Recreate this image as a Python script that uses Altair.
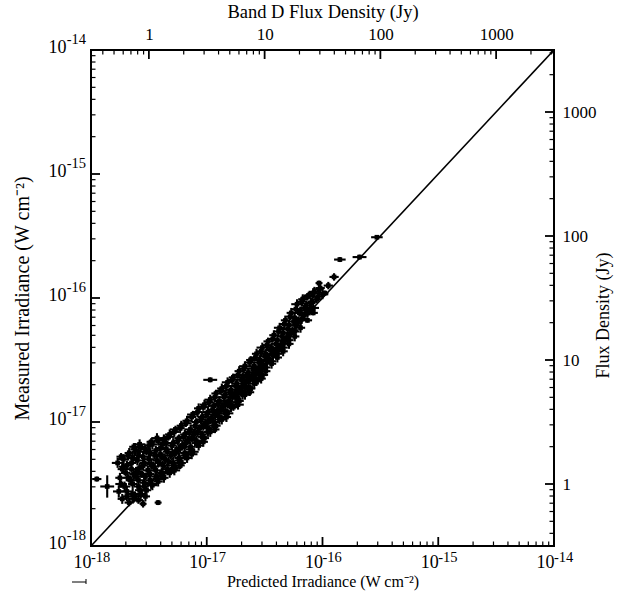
import altair as alt
import pandas as pd

# ---- data (log10 of irradiance, W cm^-2) ----
LOG_PRED = [
    -17.77, -17.75, -17.76, -17.74,
    -17.72, -17.70, -17.71, -17.69, -17.72,
    -17.67, -17.65, -17.66, -17.64, -17.67, -17.65,
    -17.62, -17.60, -17.61, -17.59, -17.62, -17.60,
    -17.57, -17.55, -17.56, -17.54, -17.57, -17.55,
    -17.52, -17.50, -17.51, -17.49, -17.52, -17.50,
    -17.47, -17.45, -17.46, -17.44, -17.47,
    -17.42, -17.40, -17.41, -17.39, -17.42, -17.40,
    -17.37, -17.35, -17.36, -17.34, -17.37,
    -17.32, -17.30, -17.31, -17.29, -17.32,
    -17.27, -17.25, -17.26, -17.24, -17.27,
    -17.22, -17.20, -17.21, -17.19, -17.22,
    -17.17, -17.15, -17.16, -17.14, -17.17,
    -17.12, -17.10, -17.11, -17.09, -17.12,
    -17.07, -17.05, -17.06, -17.04, -17.07,
    -17.02, -17.00, -17.01, -16.99, -17.02,
    -16.97, -16.95, -16.96, -16.94, -16.97,
    -16.92, -16.90, -16.91, -16.89, -16.92,
    -16.87, -16.85, -16.86, -16.84, -16.87,
    -16.82, -16.80, -16.81, -16.79, -16.82,
    -16.77, -16.75, -16.76, -16.74, -16.77,
    -16.72, -16.70, -16.71, -16.69, -16.72,
    -16.67, -16.65, -16.66, -16.64, -16.67,
    -16.62, -16.60, -16.61, -16.59, -16.62,
    -16.57, -16.55, -16.56, -16.54, -16.57,
    -16.52, -16.50, -16.51, -16.49, -16.52,
    -16.47, -16.45, -16.46, -16.44,
    -16.42, -16.40, -16.41, -16.39,
    -16.37, -16.35, -16.36, -16.34,
    -16.32, -16.30, -16.31, -16.29,
    -16.27, -16.25, -16.26, -16.24,
    -16.22, -16.20, -16.21, -16.19,
    -16.17, -16.15, -16.16,
    -16.12, -16.10, -16.11,
    -16.07, -16.05,
    -16.02, -16.00,
    # in-between columns
    -17.73, -17.74, -17.73,
    -17.68, -17.69, -17.68, -17.69,
    -17.63, -17.64, -17.63, -17.64, -17.63,
    -17.58, -17.59, -17.58, -17.59, -17.58, -17.59,
    -17.53, -17.54, -17.53, -17.54, -17.53,
    -17.48, -17.49, -17.48, -17.49, -17.48,
    -17.43, -17.44, -17.43, -17.44, -17.43,
    -17.38, -17.39, -17.38, -17.39,
    -17.33, -17.34, -17.33, -17.34,
    -17.28, -17.29, -17.28, -17.29, -17.28,
    -17.23, -17.24, -17.23, -17.24, -17.23,
    -17.18, -17.19, -17.18, -17.19,
    -17.13, -17.14, -17.13, -17.14, -17.13,
    -17.08, -17.09, -17.08, -17.09,
    -17.03, -17.04, -17.03, -17.04, -17.03,
    -16.98, -16.99, -16.98, -16.99,
    -16.93, -16.94, -16.93, -16.94, -16.93,
    -16.88, -16.89, -16.88, -16.89,
    -16.83, -16.84, -16.83, -16.84, -16.83,
    -16.78, -16.79, -16.78, -16.79,
    -16.73, -16.74, -16.73, -16.74, -16.73,
    -16.68, -16.69, -16.68, -16.69,
    -16.63, -16.64, -16.63, -16.64, -16.63,
    -16.58, -16.59, -16.58, -16.59,
    -16.53, -16.54, -16.53, -16.54, -16.53,
    -16.48, -16.49, -16.48, -16.49,
    -16.43, -16.44, -16.43, -16.44,
    -16.38, -16.39, -16.38, -16.39,
    -16.33, -16.34, -16.33, -16.34,
    -16.28, -16.29, -16.28, -16.29,
    -16.23, -16.24, -16.23, -16.24,
    -16.18, -16.19, -16.18,
    -16.13, -16.14, -16.13,
    -16.08, -16.09, -16.08,
    -16.03, -16.04,
    # isolated points
    -15.95, -15.90, -15.85, -15.68, -15.53, -16.97, -17.35, -17.59,
    -17.86, -17.95, -17.55, -17.42, -16.08, -15.98, -16.03, -16.13,
]
LOG_MEAS = [
    -17.33, -17.45, -17.56, -17.28,
    -17.30, -17.41, -17.52, -17.60, -17.36,
    -17.25, -17.38, -17.47, -17.58, -17.65, -17.33,
    -17.22, -17.31, -17.44, -17.52, -17.60, -17.40,
    -17.20, -17.35, -17.42, -17.49, -17.58, -17.28,
    -17.24, -17.30, -17.39, -17.47, -17.55, -17.19,
    -17.18, -17.27, -17.36, -17.44, -17.51,
    -17.15, -17.26, -17.33, -17.41, -17.48, -17.21,
    -17.14, -17.22, -17.30, -17.38, -17.45,
    -17.10, -17.19, -17.27, -17.35, -17.41,
    -17.06, -17.15, -17.23, -17.31, -17.37,
    -17.03, -17.12, -17.19, -17.27, -17.33,
    -16.99, -17.08, -17.15, -17.22, -17.29,
    -16.94, -17.03, -17.10, -17.17, -17.24,
    -16.89, -16.98, -17.05, -17.12, -17.19,
    -16.86, -16.94, -17.01, -17.08, -17.13,
    -16.82, -16.90, -16.97, -17.03, -17.08,
    -16.77, -16.85, -16.92, -16.98, -17.03,
    -16.73, -16.80, -16.87, -16.93, -16.98,
    -16.68, -16.76, -16.83, -16.88, -16.93,
    -16.64, -16.71, -16.78, -16.84, -16.88,
    -16.59, -16.66, -16.73, -16.78, -16.83,
    -16.55, -16.62, -16.68, -16.74, -16.78,
    -16.50, -16.57, -16.63, -16.69, -16.73,
    -16.45, -16.52, -16.58, -16.64, -16.67,
    -16.40, -16.47, -16.54, -16.59, -16.62,
    -16.35, -16.42, -16.49, -16.53,
    -16.30, -16.37, -16.43, -16.48,
    -16.24, -16.31, -16.38, -16.43,
    -16.18, -16.25, -16.32, -16.37,
    -16.12, -16.19, -16.26, -16.31,
    -16.05, -16.12, -16.19, -16.24,
    -16.01, -16.08, -16.14,
    -15.98, -16.04, -16.10,
    -15.95, -16.01,
    -15.92, -15.97,
    # in-between columns
    -17.38, -17.50, -17.62,
    -17.27, -17.35, -17.45, -17.56,
    -17.20, -17.29, -17.42, -17.50, -17.62,
    -17.18, -17.27, -17.37, -17.47, -17.55, -17.63,
    -17.22, -17.33, -17.44, -17.52, -17.60,
    -17.16, -17.25, -17.34, -17.42, -17.50,
    -17.13, -17.23, -17.31, -17.39, -17.46,
    -17.18, -17.28, -17.35, -17.43,
    -17.12, -17.24, -17.32, -17.40,
    -17.08, -17.17, -17.25, -17.33, -17.39,
    -17.05, -17.13, -17.21, -17.29, -17.35,
    -17.01, -17.10, -17.17, -17.25,
    -16.96, -17.06, -17.13, -17.20, -17.26,
    -16.92, -17.00, -17.08, -17.15,
    -16.88, -16.96, -17.03, -17.10, -17.16,
    -16.84, -16.92, -16.99, -17.05,
    -16.80, -16.87, -16.94, -17.00, -17.06,
    -16.75, -16.83, -16.90, -16.96,
    -16.71, -16.78, -16.85, -16.91, -16.96,
    -16.66, -16.74, -16.80, -16.86,
    -16.62, -16.69, -16.76, -16.81, -16.86,
    -16.57, -16.64, -16.71, -16.76,
    -16.52, -16.60, -16.66, -16.72, -16.76,
    -16.48, -16.55, -16.61, -16.66,
    -16.43, -16.50, -16.56, -16.61, -16.65,
    -16.38, -16.45, -16.51, -16.56,
    -16.33, -16.40, -16.46, -16.51,
    -16.27, -16.34, -16.41, -16.45,
    -16.21, -16.28, -16.35, -16.40,
    -16.15, -16.22, -16.29, -16.34,
    -16.09, -16.16, -16.22, -16.27,
    -16.03, -16.10, -16.17,
    -15.99, -16.06, -16.12,
    -15.96, -16.03, -16.08,
    -15.93, -15.99,
    # isolated points
    -15.90, -15.83, -15.69, -15.67, -15.51, -16.66, -17.17, -17.24,
    -17.52, -17.46, -17.66, -17.65, -16.12, -15.96, -15.88, -16.18,
]
# half-lengths of the error bars, in dex
ERR_PRED = [
    .05, .04, .05, .04,
    .05, .04, .05, .04, .04,
    .04, .05, .04, .05, .04, .04,
    .04, .05, .04, .04, .05, .04,
    .04, .04, .05, .04, .04, .05,
    .04, .05, .04, .04, .04, .04,
    .04, .04, .05, .04, .04,
    .04, .04, .04, .05, .04, .04,
    .04, .05, .04, .04, .04,
    .04, .04, .05, .04, .04,
    .05, .04, .04, .04, .05,
    .04, .05, .04, .04, .04,
    .04, .04, .05, .04, .04,
    .05, .04, .04, .04, .05,
    .04, .05, .04, .04, .04,
    .04, .04, .05, .04, .04,
    .05, .04, .04, .04, .05,
    .04, .05, .04, .04, .04,
    .04, .04, .05, .04, .04,
    .05, .04, .04, .04, .05,
    .04, .05, .04, .04, .04,
    .04, .04, .05, .04, .04,
    .05, .04, .04, .04, .05,
    .04, .05, .04, .04, .04,
    .04, .04, .05, .04, .04,
    .05, .04, .04, .04, .05,
    .04, .05, .04, .04,
    .04, .04, .05, .04,
    .05, .04, .04, .04,
    .04, .05, .04, .04,
    .04, .04, .05, .04,
    .05, .04, .04, .04,
    .04, .05, .04,
    .04, .04, .05,
    .05, .04,
    .04, .05,
    # in-between columns
    .04, .05, .04,
    .05, .04, .04, .05,
    .04, .05, .04, .04, .05,
    .05, .04, .04, .05, .04, .04,
    .04, .04, .05, .04, .04,
    .04, .05, .04, .04, .05,
    .05, .04, .04, .05, .04,
    .04, .04, .05, .04,
    .05, .04, .04, .04,
    .04, .05, .04, .04, .05,
    .04, .04, .05, .04, .04,
    .05, .04, .04, .04,
    .04, .05, .04, .04, .05,
    .04, .04, .05, .04,
    .05, .04, .04, .04, .04,
    .04, .05, .04, .04,
    .04, .04, .04, .05, .04,
    .05, .04, .04, .04,
    .04, .04, .05, .04, .04,
    .04, .05, .04, .04,
    .05, .04, .04, .04, .05,
    .04, .04, .05, .04,
    .04, .05, .04, .04, .04,
    .05, .04, .04, .04,
    .04, .04, .05, .04, .04,
    .04, .05, .04, .04,
    .05, .04, .04, .04,
    .04, .04, .05, .04,
    .04, .05, .04, .04,
    .05, .04, .04, .04,
    .04, .04, .05, .04,
    .04, .05, .04,
    .05, .04, .04,
    .04, .04, .05,
    .04, .05,
    # isolated points
    .04, .04, .05, .06, .05, .06, .06, .06,
    .06, .04, .03, .03, .04, .03, .03, .04,
]
ERR_MEAS = [
    .04, .04, .05, .03,
    .04, .03, .04, .04, .05,
    .04, .03, .04, .04, .03, .04,
    .05, .04, .03, .04, .04, .04,
    .04, .04, .03, .04, .04, .04,
    .03, .04, .04, .04, .03, .04,
    .04, .03, .04, .04, .04,
    .04, .04, .03, .04, .04, .03,
    .04, .03, .04, .04, .04,
    .04, .04, .03, .04, .04,
    .03, .04, .04, .04, .03,
    .04, .03, .04, .04, .04,
    .04, .04, .03, .04, .04,
    .03, .04, .04, .04, .03,
    .04, .04, .03, .04, .04,
    .04, .03, .04, .04, .03,
    .04, .04, .03, .04, .04,
    .03, .04, .04, .04, .03,
    .04, .04, .03, .04, .04,
    .04, .03, .04, .04, .04,
    .03, .04, .04, .04, .03,
    .04, .04, .03, .04, .04,
    .04, .03, .04, .04, .04,
    .03, .04, .04, .04, .03,
    .04, .04, .03, .04, .04,
    .04, .03, .04, .04, .04,
    .03, .04, .04, .04,
    .04, .04, .03, .04,
    .04, .03, .04, .04,
    .03, .04, .04, .04,
    .04, .04, .03, .04,
    .04, .03, .04, .04,
    .04, .04, .03,
    .03, .04, .04,
    .04, .03,
    .04, .04,
    # in-between columns
    .04, .03, .04,
    .04, .04, .03, .04,
    .03, .04, .04, .04, .03,
    .04, .03, .04, .04, .04, .03,
    .04, .04, .03, .04, .04,
    .03, .04, .04, .03, .04,
    .04, .04, .03, .04, .04,
    .04, .03, .04, .04,
    .03, .04, .04, .03,
    .04, .04, .03, .04, .04,
    .04, .03, .04, .04, .03,
    .03, .04, .04, .04,
    .04, .04, .03, .04, .04,
    .04, .03, .04, .04,
    .03, .04, .04, .03, .04,
    .04, .04, .03, .04,
    .04, .03, .04, .04, .03,
    .03, .04, .04, .04,
    .04, .04, .03, .04, .04,
    .04, .03, .04, .04,
    .03, .04, .04, .03, .04,
    .04, .04, .03, .04,
    .04, .03, .04, .04, .03,
    .03, .04, .04, .04,
    .04, .04, .03, .04, .04,
    .04, .03, .04, .04,
    .03, .04, .04, .03,
    .04, .04, .03, .04,
    .04, .03, .04, .04,
    .03, .04, .04, .04,
    .04, .04, .03, .04,
    .04, .03, .04,
    .03, .04, .04,
    .04, .03, .04,
    .04, .03,
    # isolated points
    .03, .03, .02, .02, .01, .02, .06, .07,
    .09, .02, .03, .02, .02, .02, .02, .02,
]

IRR_MAJOR = [1e-18, 1e-17, 1e-16, 1e-15, 1e-14]
IRR_EXPONENTS = ["-18", "-17", "-16", "-15", "-14"]
JY_MAJOR = [1, 10, 100, 1000]
JY_DOMAIN = [10 ** -0.5, 10 ** 3.5]   # 1 Jy = 10^-17.5 W cm^-2 on these axes
IRR_DOMAIN = [1e-18, 1e-14]

# ---- derived tables ----
pts = pd.DataFrame({"lp": LOG_PRED, "lm": LOG_MEAS, "ex": ERR_PRED, "ey": ERR_MEAS})
pts["pred"] = 10 ** pts["lp"]
pts["meas"] = 10 ** pts["lm"]
pts["xlo"] = 10 ** (pts["lp"] - pts["ex"])
pts["xhi"] = 10 ** (pts["lp"] + pts["ex"])
pts["ylo"] = 10 ** (pts["lm"] - pts["ey"])
pts["yhi"] = 10 ** (pts["lm"] + pts["ey"])

diag = pd.DataFrame({"v": IRR_DOMAIN})
irr_major = pd.DataFrame({"v": IRR_MAJOR, "e": IRR_EXPONENTS})
irr_minor = pd.DataFrame({"v": [k * m for m in IRR_MAJOR[:-1] for k in range(2, 10)]})
jy_major = pd.DataFrame({"v": JY_MAJOR})
jy_minor = pd.DataFrame({"v": [k * m for m in [0.1, 1, 10, 100, 1000] for k in range(2, 10)
                               if JY_DOMAIN[0] <= k * m <= JY_DOMAIN[1]]})

W, H = 463, 496
FONT = "Liberation Serif"
MAJ, MIN = 9, 4.5
BASE, SUP = 18, 14.5

common = dict(ticks=False, domain=False, grid=False, labelFlush=False, labelOverlap=False,
              labelFont=FONT, labelColor="black", titleFont=FONT, titleColor="black",
              titleFontWeight="normal")

X_AXIS = alt.Axis(title="Predicted Irradiance (W cm⁻²)", values=IRR_MAJOR, labelExpr="'10'",
                  labelFontSize=BASE, labelPadding=7, labelOffset=-9,
                  titleFontSize=16, titlePadding=2, **common)
Y_AXIS = alt.Axis(title="Measured Irradiance (W cm⁻²)", values=IRR_MAJOR, labelExpr="'10'",
                  labelFontSize=BASE, labelPadding=25, labelOffset=-3,
                  titleFontSize=20, titlePadding=16, **common)
TOP_AXIS = alt.Axis(orient="top", title="Band D Flux Density (Jy)", values=JY_MAJOR, format="d",
                    labelFontSize=17, labelPadding=7, titleFontSize=18.5, titlePadding=4, **common)
RIGHT_AXIS = alt.Axis(orient="right", title="Flux Density (Jy)", values=JY_MAJOR, format="d",
                      labelFontSize=17, labelPadding=8, titleFontSize=18, titlePadding=16,
                      titleAngle=270, titleY=H / 2 + 17, **common)

XS = alt.Scale(type="log", domain=IRR_DOMAIN, nice=False)
YS = alt.Scale(type="log", domain=IRR_DOMAIN, nice=False)
JXS = alt.Scale(type="log", domain=JY_DOMAIN, nice=False)
JYS = alt.Scale(type="log", domain=JY_DOMAIN, nice=False)


def X(f):
    return alt.X(f, type="quantitative", scale=XS, axis=X_AXIS)


def Y(f):
    return alt.Y(f, type="quantitative", scale=YS, axis=Y_AXIS)


SW = 2.1
errx = alt.Chart(pts).mark_rule(color="black", strokeWidth=SW).encode(
    x=X("xlo"), x2="xhi:Q", y=Y("meas"))
erry = alt.Chart(pts).mark_rule(color="black", strokeWidth=SW).encode(
    x=X("pred"), y=Y("ylo"), y2="yhi:Q")
dots = alt.Chart(pts).mark_square(color="black", size=22, opacity=1).encode(x=X("pred"), y=Y("meas"))
line = alt.Chart(diag).mark_line(color="black", strokeWidth=1.6).encode(x=X("v"), y=Y("v"))

b_maj = alt.Chart(irr_major).mark_rule(color="black", strokeWidth=1.8).encode(
    x=X("v"), y=alt.value(H), y2=alt.value(H - MAJ))
b_min = alt.Chart(irr_minor).mark_rule(color="black", strokeWidth=1.2).encode(
    x=X("v"), y=alt.value(H), y2=alt.value(H - MIN))
l_maj = alt.Chart(irr_major).mark_rule(color="black", strokeWidth=1.8).encode(
    y=Y("v"), x=alt.value(0), x2=alt.value(MAJ))
l_min = alt.Chart(irr_minor).mark_rule(color="black", strokeWidth=1.2).encode(
    y=Y("v"), x=alt.value(0), x2=alt.value(MIN))

# exponents of the "10^n" tick labels, set as superscripts
b_exp = alt.Chart(irr_major).mark_text(font=FONT, fontSize=SUP, align="left",
                                       baseline="alphabetic", color="black", dx=0).encode(
    x=X("v"), y=alt.value(H + 16), text="e:N")
l_exp = alt.Chart(irr_major).mark_text(font=FONT, fontSize=SUP, align="right",
                                       baseline="alphabetic", color="black", dy=-6).encode(
    y=Y("v"), x=alt.value(-5), text="e:N")

# small error-bar key below the lower-left corner
key_h = alt.Chart(diag.head(1)).mark_rule(color="black", strokeWidth=1).encode(
    x=alt.value(-19), x2=alt.value(-5), y=alt.value(H + 36))
key_v = alt.Chart(diag.head(1)).mark_rule(color="black", strokeWidth=1).encode(
    x=alt.value(-5), y=alt.value(H + 33), y2=alt.value(H + 38))

groupA = alt.layer(errx, erry, dots, line, b_maj, b_min, l_maj, l_min, b_exp, l_exp, key_h, key_v)

t_maj = alt.Chart(jy_major).mark_rule(color="black", strokeWidth=1.8).encode(
    x=alt.X("v:Q", scale=JXS, axis=TOP_AXIS), y=alt.value(0), y2=alt.value(MAJ))
t_min = alt.Chart(jy_minor).mark_rule(color="black", strokeWidth=1.2).encode(
    x=alt.X("v:Q", scale=JXS, axis=TOP_AXIS), y=alt.value(0), y2=alt.value(MIN))
r_maj = alt.Chart(jy_major).mark_rule(color="black", strokeWidth=1.8).encode(
    y=alt.Y("v:Q", scale=JYS, axis=RIGHT_AXIS), x=alt.value(W), x2=alt.value(W - MAJ))
r_min = alt.Chart(jy_minor).mark_rule(color="black", strokeWidth=1.2).encode(
    y=alt.Y("v:Q", scale=JYS, axis=RIGHT_AXIS), x=alt.value(W), x2=alt.value(W - MIN))

groupB = alt.layer(t_maj, t_min, r_maj, r_min)

chart = (
    alt.layer(groupA, groupB)
    .resolve_scale(x="independent", y="independent")
    .properties(
        width=W, height=H,
        autosize=alt.AutoSizeParams(type="none"),
        padding={"left": 91, "top": 50, "right": 621 - 91 - W, "bottom": 601 - 50 - H},
        background="white",
    )
    .configure_view(stroke="black", strokeWidth=2)
)

chart.save("out.html", embed_options={"renderer": "svg", "actions": False})
